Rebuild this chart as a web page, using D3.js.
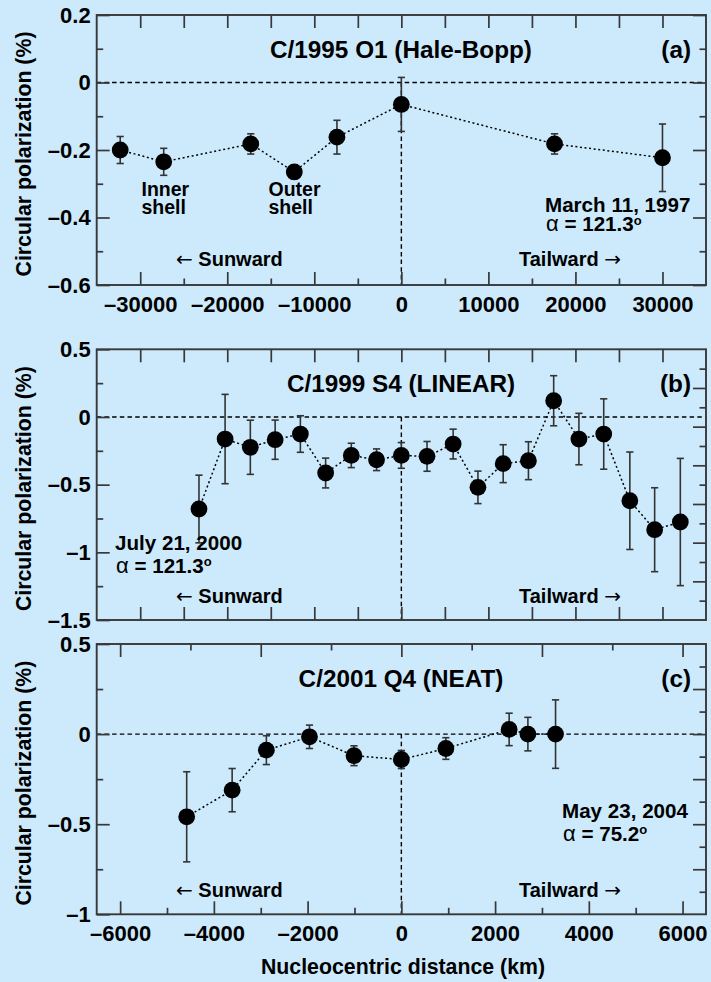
<!DOCTYPE html>
<html>
<head>
<meta charset="utf-8">
<script src="https://cdn.jsdelivr.net/npm/d3@7"></script>
<style>
  html, body { margin: 0; padding: 0; background: #cceafc; }
  svg { display: block; }
</style>
</head>
<body>
<svg id="chart" width="711" height="982"></svg>
<script>
// ---- C/1995 O1 (Hale-Bopp), March 11, 1997 ----
const distA = [-32300, -27300, -17300, -12300, -7400, 0, 17600, 30000];
const polA  = [-0.200, -0.235, -0.182, -0.265, -0.162, -0.065, -0.182, -0.223];
const errA  = [0.040, 0.040, 0.030, 0.020, 0.050, 0.080, 0.030, 0.100];

// ---- C/1999 S4 (LINEAR), July 21, 2000 ----
const distB = [-4650, -4050, -3470, -2900, -2320, -1740, -1150, -570, 0, 590,
               1190, 1760, 2340, 2920, 3500, 4080, 4650, 5250, 5820, 6410];
const polB  = [-0.680, -0.163, -0.224, -0.168, -0.126, -0.414, -0.284, -0.316, -0.284, -0.291,
               -0.200, -0.520, -0.345, -0.323, 0.120, -0.163, -0.126, -0.619, -0.833, -0.776];
const errB  = [0.250, 0.330, 0.200, 0.145, 0.135, 0.110, 0.090, 0.080, 0.095, 0.110,
               0.110, 0.120, 0.140, 0.140, 0.185, 0.190, 0.260, 0.360, 0.310, 0.470];

// ---- C/2001 Q4 (NEAT), May 23, 2004 ----
const distC = [-4580, -3610, -2880, -1960, -1010, 0, 950, 2300, 2700, 3290];
const polC  = [-0.459, -0.311, -0.089, -0.015, -0.120, -0.141, -0.080, 0.026, 0.000, 0.000];
const errC  = [0.250, 0.120, 0.080, 0.065, 0.055, 0.050, 0.060, 0.090, 0.093, 0.190];

// ---- tick values ----
const xLabelA = [-30000, -20000, -10000, 0, 10000, 20000, 30000];
const xMinorA = [-25000, -15000, -5000, 5000, 15000, 25000];
const yLabelA = [-0.6, -0.4, -0.2, 0, 0.2];
const yMinorA = [-0.5, -0.3, -0.1, 0.1];

const xTickB  = [-6000, -5000, -4000, -3000, -2000, -1000, 0, 1000, 2000, 3000, 4000, 5000, 6000];
const yLabelB = [-1.5, -1, -0.5, 0, 0.5];
const yMinorB = [-1.25, -0.75, -0.25, 0.25];
const rightStepsB = [1, 2, 3, 4, 5, 6, 7, 8, 9, 10, 11, 12, 13]; // 14 divisions of the right edge

const xLabelC = [-6000, -4000, -2000, 0, 2000, 4000, 6000];
const xMinorC = [-5000, -3000, -1000, 1000, 3000, 5000];
const xTopMajorC = [-6000, -3000, 0, 3000, 6000];
const xTopMinorC = [-4500, -1500, 1500, 4500];
const yLabelC = [-1, -0.5, 0, 0.5];
const yMinorC = [-0.75, -0.25, 0.25];
const yRightMajorC = [-0.75, -0.5, -0.25, 0, 0.25];
const yRightMinorC = [-0.875, -0.625, -0.375, -0.125, 0.125, 0.375];

const FONT = '"Liberation Sans", Arial, Helvetica, sans-serif';
const ARROW_FONT = '"DejaVu Sans", sans-serif';
const FRAME = '#383838';
const LONG = 13, SHORT = 6.5;
const plotLeft = 96.7, plotRight = 706;

const svg = d3.select('#chart');

const fmt = d => (d < 0 ? '\u2013' : '') + String(Math.abs(d));

function styleAxis(sel, labelled) {
  sel.select('.domain').remove();
  sel.selectAll('.tick line').attr('stroke', FRAME).attr('stroke-width', 1.7);
  sel.attr('font-family', FONT).attr('font-size', 22);
  if (labelled) {
    sel.selectAll('.tick text').attr('fill', '#000').attr('font-size', 22).attr('font-weight', 'bold');
  } else {
    sel.selectAll('.tick text').remove();
  }
}

function axis(g, gen, tx, ty, labelled) {
  const a = g.append('g').attr('transform', `translate(${tx},${ty})`).call(gen);
  styleAxis(a, labelled);
  return a;
}

function label(g, x, y, size) {
  return g.append('text').attr('x', x).attr('y', y)
    .attr('font-family', FONT).attr('font-size', size)
    .attr('font-weight', 'bold').attr('fill', '#000');
}

function drawPanel(p) {
  const g = svg.append('g');
  const x = d3.scaleLinear().domain(p.xDomain).range([plotLeft, plotRight]);
  const y = d3.scaleLinear().domain(p.yDomain).range([p.bottom, p.top]);
  const pts = p.dist.map((d, i) => ({ x: d, y: p.pol[i], e: p.err[i] }));

  // zero level and nucleus position
  g.append('line')
    .attr('x1', plotLeft).attr('x2', plotRight).attr('y1', y(0)).attr('y2', y(0))
    .attr('stroke', '#000').attr('stroke-width', 1.4).attr('stroke-dasharray', '4.5,3.2');
  g.append('line')
    .attr('x1', x(0)).attr('x2', x(0)).attr('y1', y(0)).attr('y2', p.bottom)
    .attr('stroke', '#000').attr('stroke-width', 1.4).attr('stroke-dasharray', '4.5,3.2');

  // dotted connecting line
  g.append('path').datum(pts)
    .attr('d', d3.line().x(d => x(d.x)).y(d => y(d.y)))
    .attr('fill', 'none').attr('stroke', '#000').attr('stroke-width', 1.5)
    .attr('stroke-dasharray', '2,2.6');

  // error bars
  const eb = g.append('g').attr('stroke', '#333').attr('stroke-width', 1.6);
  const cap = 3.6;
  eb.selectAll('line.v').data(pts).join('line')
    .attr('x1', d => x(d.x)).attr('x2', d => x(d.x))
    .attr('y1', d => y(d.y + d.e)).attr('y2', d => y(d.y - d.e));
  eb.selectAll('line.t').data(pts).join('line')
    .attr('x1', d => x(d.x) - cap).attr('x2', d => x(d.x) + cap)
    .attr('y1', d => y(d.y + d.e)).attr('y2', d => y(d.y + d.e));
  eb.selectAll('line.b').data(pts).join('line')
    .attr('x1', d => x(d.x) - cap).attr('x2', d => x(d.x) + cap)
    .attr('y1', d => y(d.y - d.e)).attr('y2', d => y(d.y - d.e));

  // measurements
  g.selectAll('circle').data(pts).join('circle')
    .attr('cx', d => x(d.x)).attr('cy', d => y(d.y)).attr('r', 8.4).attr('fill', '#000');

  // frame
  g.append('rect')
    .attr('x', plotLeft).attr('y', p.top)
    .attr('width', plotRight - plotLeft).attr('height', p.bottom - p.top)
    .attr('fill', 'none').attr('stroke', FRAME).attr('stroke-width', 1.9);

  // axes (ticks point inward)
  axis(g, d3.axisLeft(y).tickValues(p.yLabel).tickSize(-LONG).tickPadding(6).tickFormat(fmt), plotLeft, 0, true);
  axis(g, d3.axisLeft(y).tickValues(p.yMinor).tickSize(-SHORT), plotLeft, 0, false);
  const ry = p.rightScale || y;
  axis(g, d3.axisRight(ry).tickValues(p.rightMajor).tickSize(-LONG), plotRight, 0, false);
  axis(g, d3.axisRight(ry).tickValues(p.rightMinor).tickSize(-SHORT), plotRight, 0, false);
  axis(g, d3.axisBottom(x).tickValues(p.xBottomMajor).tickSize(-LONG).tickPadding(11.5).tickFormat(fmt),
       0, p.bottom, p.xLabelled);
  if (p.xBottomMinor.length)
    axis(g, d3.axisBottom(x).tickValues(p.xBottomMinor).tickSize(-SHORT), 0, p.bottom, false);
  axis(g, d3.axisTop(x).tickValues(p.xTopMajor).tickSize(-LONG), 0, p.top, false);
  if (p.xTopMinor.length)
    axis(g, d3.axisTop(x).tickValues(p.xTopMinor).tickSize(-SHORT), 0, p.top, false);

  // y-axis title
  g.append('text')
    .attr('transform', `translate(30.5,${(p.top + p.bottom) / 2 + 4}) rotate(-90)`)
    .attr('text-anchor', 'middle').attr('font-family', FONT).attr('font-size', 21.3)
    .attr('font-weight', 'bold').attr('fill', '#000')
    .text('Circular polarization (%)');

  // comet name and panel letter
  label(g, 401, p.top + 42.5, 24.3).attr('text-anchor', 'middle').text(p.title);
  label(g, 691, p.top + 42.5, 24.3).attr('text-anchor', 'end').text(p.letter);

  // direction hints
  const sun = label(g, 176, p.bottom - p.dirGap, 20);
  sun.append('tspan').attr('font-family', ARROW_FONT).attr('font-weight', 'normal').text('\u2190');
  sun.append('tspan').text(' Sunward');
  const tail = label(g, 519, p.bottom - p.dirGap, 20);
  tail.append('tspan').text('Tailward ');
  tail.append('tspan').attr('font-family', ARROW_FONT).attr('font-weight', 'normal').text('\u2192');

  // observation date and phase angle
  label(g, p.dateX, p.dateY, 20.6).text(p.date);
  const ph = label(g, p.dateX + 1, p.dateY + p.phaseGap, 20.6);
  ph.append('tspan').attr('font-weight', 'normal').attr('font-size', 22).text('\u03B1');
  ph.append('tspan').text(' = ' + p.phase);
  ph.append('tspan').attr('font-size', 13).attr('dy', -6.5).text('o');

  return { x, y, g };
}

const pa = drawPanel({
  top: 15, bottom: 285, xDomain: [-35000, 35000], yDomain: [-0.6, 0.2],
  dist: distA, pol: polA, err: errA,
  yLabel: yLabelA, yMinor: yMinorA, rightMajor: yLabelA, rightMinor: yMinorA,
  xBottomMajor: xLabelA, xBottomMinor: xMinorA, xLabelled: true,
  xTopMajor: xLabelA.concat(xMinorA), xTopMinor: [],
  title: 'C/1995 O1 (Hale-Bopp)', letter: '(a)', dirGap: 19.5,
  date: 'March 11, 1997', phase: '121.3', dateX: 545, dateY: 212, phaseGap: 19
});

// shell labels in the Hale-Bopp panel
[['Inner', 'shell', 141.5], ['Outer', 'shell', 268.5]].forEach(([l1, l2, lx]) => {
  const t = label(pa.g, lx, 196, 19.5);
  t.append('tspan').attr('x', lx).attr('y', 196).text(l1);
  t.append('tspan').attr('x', lx).attr('y', 213.5).text(l2);
});

drawPanel({
  top: 349.3, bottom: 620, xDomain: [-7000, 7000], yDomain: [-1.5, 0.5],
  dist: distB, pol: polB, err: errB,
  yLabel: yLabelB, yMinor: yMinorB,
  rightScale: d3.scaleLinear().domain([0, 14]).range([620, 349.3]),
  rightMajor: rightStepsB.filter(k => k % 2 === 0), rightMinor: rightStepsB.filter(k => k % 2 === 1),
  xBottomMajor: xTickB, xBottomMinor: [], xLabelled: false,
  xTopMajor: xTickB, xTopMinor: [],
  title: 'C/1999 S4 (LINEAR)', letter: '(b)', dirGap: 17.5,
  date: 'July 21, 2000', phase: '121.3', dateX: 115, dateY: 550, phaseGap: 22.5
});

drawPanel({
  top: 644, bottom: 914.3, xDomain: [-6500, 6500], yDomain: [-1, 0.5],
  dist: distC, pol: polC, err: errC,
  yLabel: yLabelC, yMinor: yMinorC, rightMajor: yRightMajorC, rightMinor: yRightMinorC,
  xBottomMajor: xLabelC, xBottomMinor: xMinorC, xLabelled: true,
  xTopMajor: xTopMajorC, xTopMinor: xTopMinorC,
  title: 'C/2001 Q4 (NEAT)', letter: '(c)', dirGap: 17,
  date: 'May 23, 2004', phase: '75.2', dateX: 562, dateY: 817.5, phaseGap: 23
});

// shared x-axis title
svg.append('text').attr('x', 403).attr('y', 974)
  .attr('text-anchor', 'middle').attr('font-family', FONT).attr('font-size', 21.3)
  .attr('font-weight', 'bold').attr('fill', '#000')
  .text('Nucleocentric distance (km)');
</script>
</body>
</html>
